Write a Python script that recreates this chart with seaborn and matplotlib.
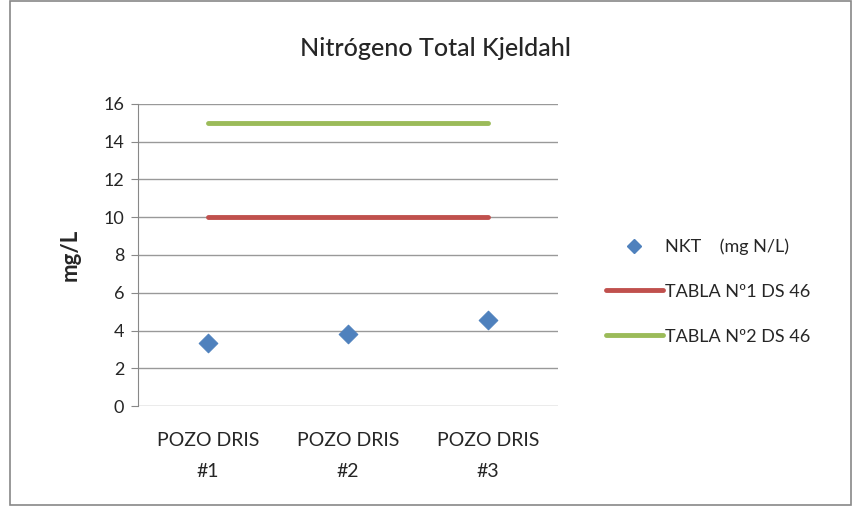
import pandas as pd
import matplotlib
matplotlib.use('Agg')
import matplotlib.pyplot as plt
import seaborn as sns
from matplotlib.lines import Line2D
from matplotlib.patches import Rectangle

# ── data ──
wells = ["POZO DRIS\n#1", "POZO DRIS\n#2", "POZO DRIS\n#3"]
nkt = [3.35, 3.8, 4.55]
tabla1 = [10, 10, 10]
tabla2 = [15, 15, 15]
y_ticks = [0, 2, 4, 6, 8, 10, 12, 14, 16]

blue = "#4F81BD"
red = "#C0504D"
green = "#9BBB59"

df = pd.DataFrame({"pozo": wells, "nkt": nkt, "t1": tabla1, "t2": tabla2})

sns.set_style("white")
plt.rcParams['font.family'] = ['Lato', 'DejaVu Sans']

fig = plt.figure(figsize=(8.54, 5.07), dpi=100)
ax = fig.add_axes([0.1616, 0.1992, 0.4918, 0.5957])

sns.lineplot(data=df, x="pozo", y="t2", ax=ax, color=green, linewidth=3.5, sort=False)
sns.lineplot(data=df, x="pozo", y="t1", ax=ax, color=red, linewidth=3.5, sort=False)
sns.scatterplot(data=df, x="pozo", y="nkt", ax=ax, color=blue, marker="D", s=90,
                edgecolor=blue, zorder=5)

ax.set_xlim(-0.5, 2.5)
ax.set_ylim(0, 16)
ax.set_yticks(y_ticks)
ax.yaxis.grid(True, color="#999999", linewidth=1)
ax.set_axisbelow(True)
for side in ["top", "right", "bottom"]:
    ax.spines[side].set_visible(False)
ax.spines["left"].set_color("#888888")
ax.tick_params(axis="y", which="both", left=True, length=5, color="#888888",
               labelsize=13, pad=5)
ax.tick_params(axis="x", length=0, labelsize=14, pad=19)
for lbl in ax.get_xticklabels():
    lbl.set_linespacing(2.0)
ax.set_xlabel("")
ax.set_ylabel("mg/L", fontsize=16, fontweight="bold", labelpad=16)

fig.text(0.51, 0.905, "Nitrógeno Total Kjeldahl", fontsize=18, fontweight="medium",
         ha="center", va="center")

handles = [
    Line2D([], [], color=blue, marker="D", linestyle="none", markersize=7),
    Line2D([], [], color=red, linewidth=3.5),
    Line2D([], [], color=green, linewidth=3.5),
]
labels = ["NKT    (mg N/L)", "TABLA Nº1 DS 46", "TABLA Nº2 DS 46"]
fig.legend(handles, labels, loc="center left", bbox_to_anchor=(0.69, 0.425),
           frameon=False, fontsize=13, handlelength=3.2, handletextpad=0.1,
           labelspacing=1.6)

fig.patches.append(Rectangle((0.012, 0.004), 0.984, 0.994, transform=fig.transFigure,
                             fill=False, edgecolor="#888888", linewidth=1.2))

fig.savefig("out.png", dpi=100)
